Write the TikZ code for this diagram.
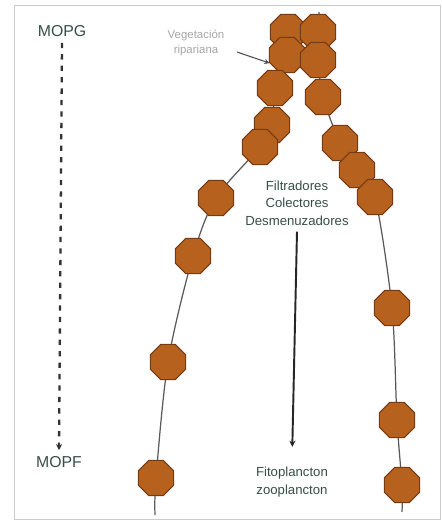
\documentclass[tikz,border=0pt]{standalone}
\usepackage{fontspec}
\setmainfont{Liberation Sans}
\usepackage{tikz}
\usepackage{xcolor}
\usetikzlibrary{shapes.geometric,arrows.meta,backgrounds}
\definecolor{octfill}{RGB}{183,97,30}
\definecolor{octline}{RGB}{115,58,20}
\definecolor{labeltext}{RGB}{55,78,72}

\begin{document}
\begin{tikzpicture}[x=0.02cm,y=-0.02cm]
\tikzstyle{oct}=[draw=octline,fill=octfill,line width=0.6pt,regular polygon,regular polygon sides=8,minimum size=0.76cm,inner sep=0pt];
\tikzstyle{lbl}=[text=labeltext,font=\fontsize{9}{11}\selectfont,align=center];
\tikzstyle{grp}=[text=labeltext,font=\fontsize{7.5}{10}\selectfont,align=center];
\tikzstyle{curve}=[draw=black!65,line width=0.7pt];
\useasboundingbox (0,0) rectangle (442,532);
% left branch
\node[oct](l1) at (288,32) {};
\node[oct](l2) at (287,55) {};
\node[oct](l3) at (275,88) {};
\node[oct](l4) at (272,125) {};
\node[oct](l5) at (260,147) {};
\node[oct](l6) at (216,198) {};
\node[oct](l7) at (193,256) {};
\node[oct](l8) at (168,362) {};
\node[oct](l9) at (156,478) {};
% right branch
\node[oct](r1) at (318,32) {};
\node[oct](r2) at (318,60) {};
\node[oct](r3) at (323,97) {};
\node[oct](r4) at (340,143) {};
\node[oct](r5) at (357,170) {};
\node[oct](r6) at (375,197) {};
\node[oct](r7) at (392,308) {};
\node[oct](r8) at (397,420) {};
\node[oct](r9) at (402,485) {};
\coordinate(rtop) at (319,12);
\coordinate(lend) at (155,515);
\coordinate(rend) at (402,512);
% labels
\node[lbl](mopg) at (62,31) {MOPG};
\node[lbl](mopf) at (59,462) {MOPF};
\node[grp](cons) at (297,203) {Filtradores\\Colectores\\Desmenuzadores};
\node[grp](fito) at (292,482) {Fitoplancton\\zooplancton};
\node[text=black!35,font=\fontsize{6.5}{8}\selectfont,align=center](veg) at (196,43) {Vegetación\\ripariana};
\coordinate(vegtail) at (237,52);
\draw[black!70,line width=0.6pt,-{Stealth[length=3pt,width=3pt]}] (vegtail)--(l2.205);
\draw[black!80,line width=1.3pt,dash pattern=on 3pt off 3.5pt,-{Stealth[length=3.5pt,width=3.5pt]}] (mopg.south)--(mopf.north);
\draw[black!85,line width=1.1pt,shorten >=8pt,-{Stealth[length=3.5pt,width=3.5pt]}] (cons.south)--(fito.north);
\begin{scope}[on background layer]
\draw[black!20,line width=0.5pt] (14,5) rectangle (440,519);
\draw[curve] plot[smooth] coordinates {(l1) (l2) (l3) (l4) (l5) (l6) (l7) (l8) (l9) (lend)};
\draw[curve] plot[smooth] coordinates {(rtop) (r1) (r2) (r3) (r4) (r5) (r6) (r7) (r8) (r9) (rend)};
\end{scope}
\end{tikzpicture}
\end{document}
